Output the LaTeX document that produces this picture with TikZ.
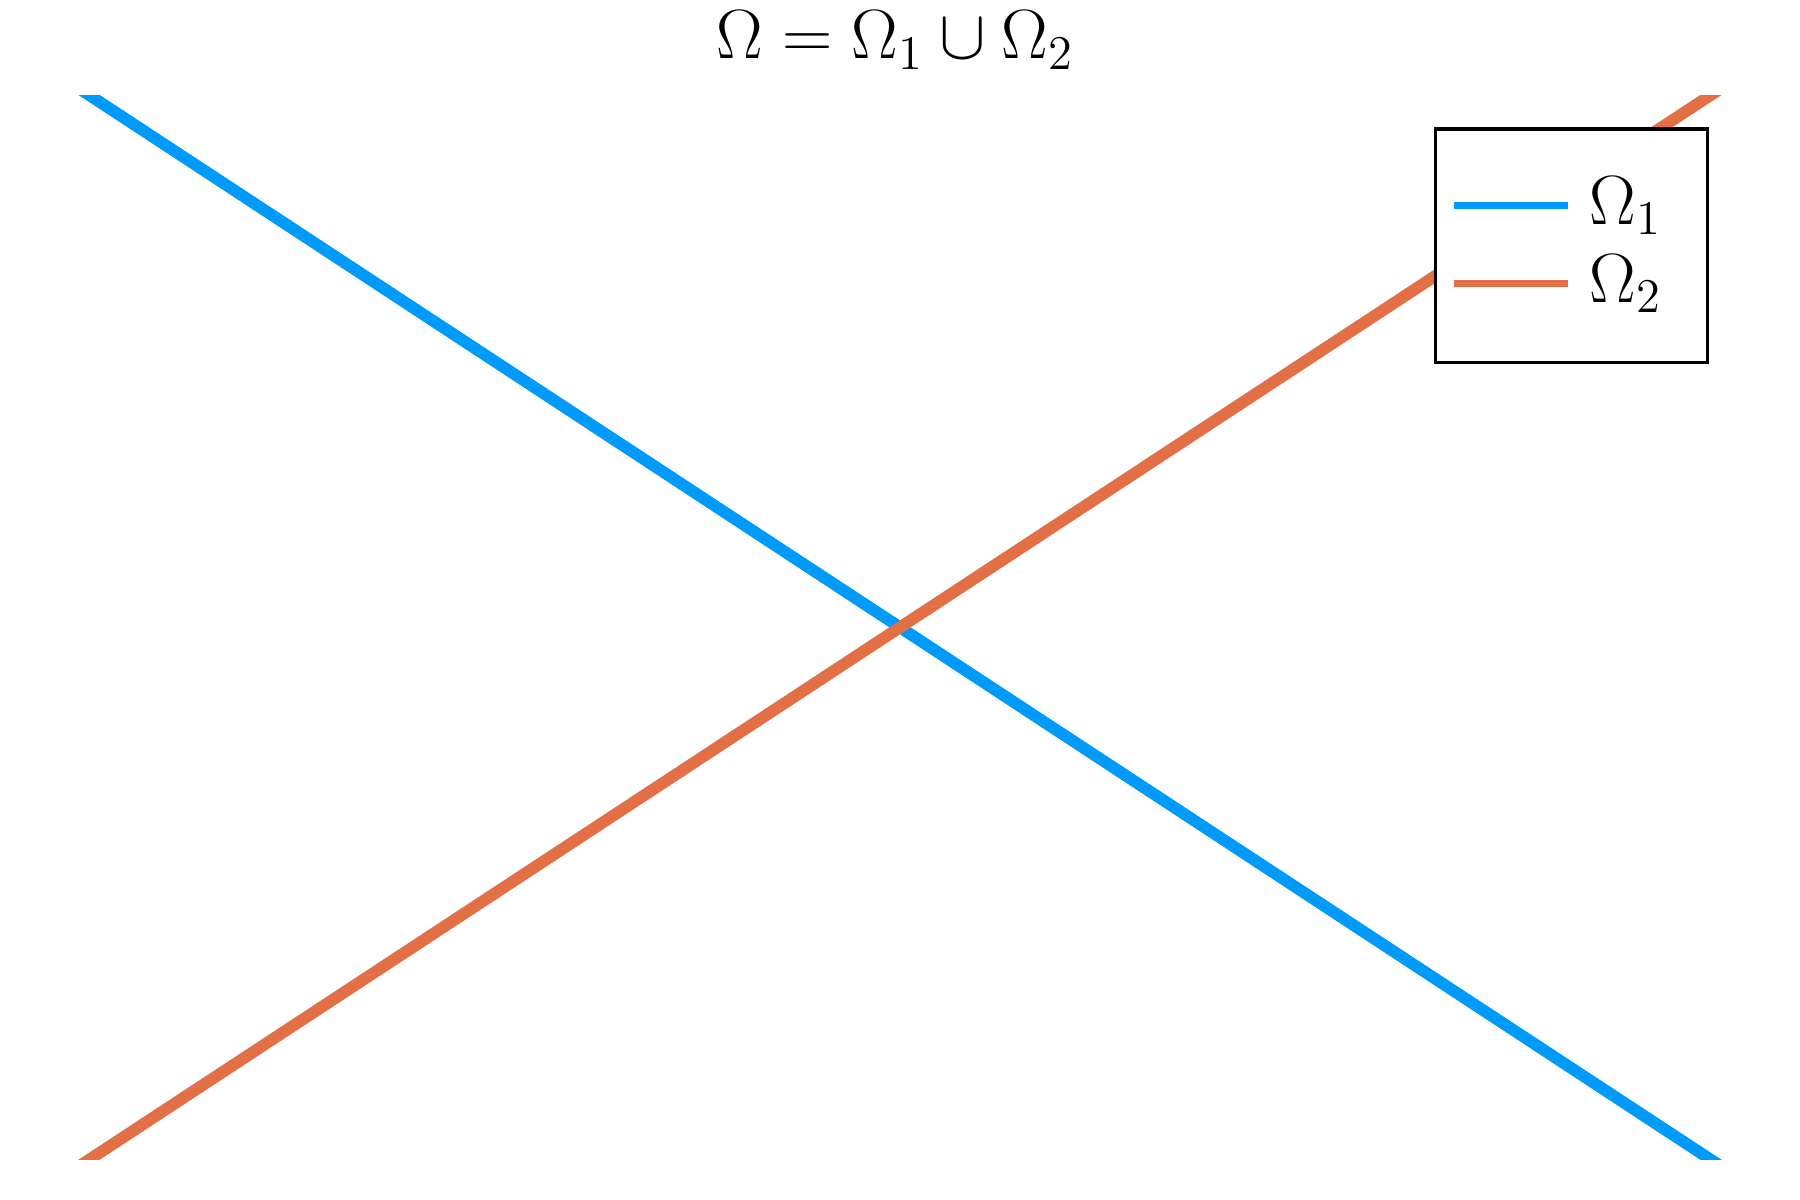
\documentclass[tikz,border=0pt]{standalone}
\usetikzlibrary{positioning, calc}
\definecolor{serieA}{RGB}{0,154,250}
\definecolor{serieB}{RGB}{227,111,71}
\tikzset{
  curve/.style={line width=2.9pt},
  legline/.style={line width=1.6pt},
  leglabel/.style={anchor=west, inner sep=0pt, font=\LARGE}
}
\begin{document}
\begin{tikzpicture}[x=0.01cm, y=-0.01cm]
    \useasboundingbox (0,0) rectangle (1568,1045);

    % plot area
    \coordinate (tl) at (78,83);
    \coordinate (br) at (1490,1010);
    \coordinate (bl) at (78,1010);
    \coordinate (tr) at (1490,83);

    \begin{scope}
        \clip (60,83) rectangle (1510,1010);
        \draw[curve, serieA] ($(tl)!-0.01!(br)$) -- ($(tl)!1.01!(br)$);
        \draw[curve, serieB] ($(bl)!-0.01!(tr)$) -- ($(bl)!1.01!(tr)$);
    \end{scope}

    % title
    \node[font=\LARGE] (title) at (780,35) {$\Omega = \Omega_1 \cup \Omega_2$};

    % legend
    \node[draw, fill=white, line width=0.8pt, minimum width=2.37cm, minimum height=2.03cm,
          anchor=north west, inner sep=0pt] (legend) at (1249,111) {};
    \coordinate (la1) at (1267,179);
    \coordinate (lb1) at (1366,179);
    \coordinate (la2) at (1267,247);
    \coordinate (lb2) at (1366,247);
    \draw[legline, serieA] (la1) -- (lb1);
    \draw[legline, serieB] (la2) -- (lb2);
    \node[leglabel, right=0.18cm of lb1] (lab1) {$\Omega_1$};
    \node[leglabel, right=0.18cm of lb2] (lab2) {$\Omega_2$};
\end{tikzpicture}
\end{document}
